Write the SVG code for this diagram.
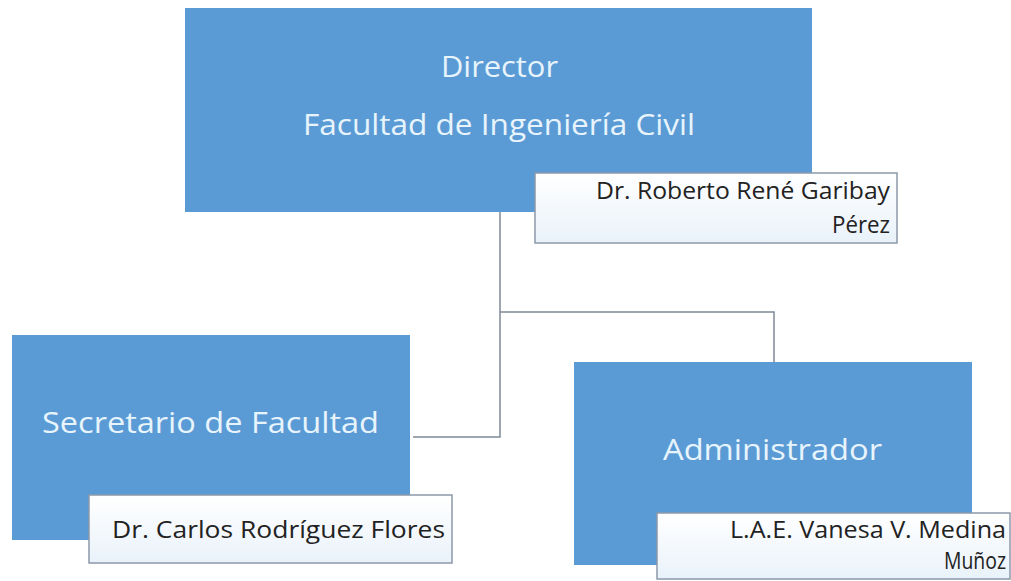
<svg xmlns="http://www.w3.org/2000/svg" width="1011" height="581" viewBox="0 0 1011 581">
<defs>
<linearGradient id="ng" x1="0" y1="0" x2="0" y2="1">
<stop offset="0" stop-color="#ffffff"/>
<stop offset="1" stop-color="#e9f2fa"/>
</linearGradient>
<style>
.box{fill:#5b9bd5;}
.name{fill:url(#ng);stroke:#8c99aa;stroke-width:1.5;}
.t{font-family:"Open Sans","Noto Sans",sans-serif;fill:#e8f4fc;font-size:30px;text-anchor:middle;}
.n{font-family:"Open Sans","Noto Sans",sans-serif;fill:#222222;font-size:23px;text-anchor:end;}
.s{text-anchor:start;}
.c{fill:none;stroke:#7f8a96;stroke-width:1.5;}
</style>
</defs>
<rect width="1011" height="581" fill="#ffffff"/>
<g id="connectors">
<path class="c" d="M500,212 V437 H413"/>
<path class="c" d="M500,312 H774 V362"/>
</g>
<g id="director">
<rect class="box" x="185" y="8" width="627" height="204"/>
<text class="t" x="499.5" y="77" textLength="117" lengthAdjust="spacingAndGlyphs">Director</text>
<text class="t" x="499" y="135" textLength="392" lengthAdjust="spacingAndGlyphs">Facultad de Ingeniería Civil</text>
<rect class="name" x="535" y="173" width="362" height="70"/>
<text class="n" x="890" y="199" textLength="294" lengthAdjust="spacingAndGlyphs">Dr. Roberto René Garibay</text>
<text class="n" x="890" y="233" textLength="58" lengthAdjust="spacingAndGlyphs">Pérez</text>
</g>
<g id="secretario">
<rect class="box" x="12" y="335" width="398" height="205"/>
<text class="t" x="210.5" y="433" textLength="337" lengthAdjust="spacingAndGlyphs">Secretario de Facultad</text>
<rect class="name" x="89" y="495" width="363" height="68"/>
<text class="n" x="445" y="538" textLength="333" lengthAdjust="spacingAndGlyphs">Dr. Carlos Rodríguez Flores</text>
</g>
<g id="administrador">
<rect class="box" x="574" y="362" width="398" height="203"/>
<text class="t" x="772.5" y="460" textLength="219" lengthAdjust="spacingAndGlyphs">Administrador</text>
<rect class="name" x="657" y="513" width="353" height="66"/>
<text class="n s" x="730" y="538" textLength="276" lengthAdjust="spacingAndGlyphs">L.A.E. Vanesa V. Medina</text>
<text class="n s" x="944" y="569" textLength="62" lengthAdjust="spacingAndGlyphs">Muñoz</text>
</g>
</svg>
